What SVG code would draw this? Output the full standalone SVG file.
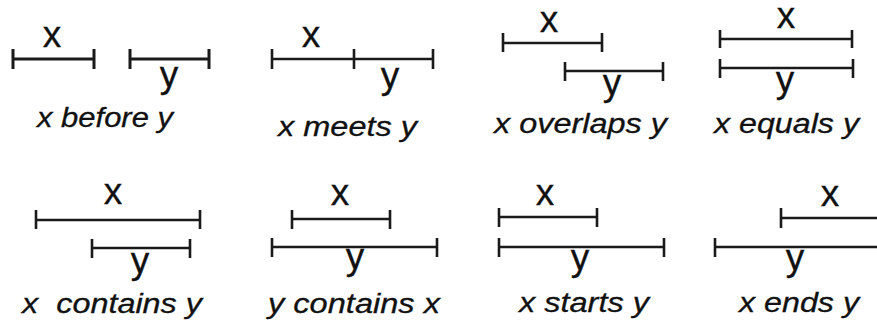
<svg xmlns="http://www.w3.org/2000/svg" width="877" height="322" viewBox="0 0 877 322">
<style>
.iv{fill:none;stroke:#1a1a1a;stroke-width:2.6;stroke-linecap:butt}
.thick{stroke-width:3}
.lbl{font-family:"Liberation Sans",Arial,sans-serif;font-size:37px;fill:#111;stroke:#111;stroke-width:0.3;text-anchor:middle}
.cap{font-family:"Liberation Sans",Arial,sans-serif;font-size:27px;font-style:italic;fill:#111;stroke:#111;stroke-width:0.3}
</style>
<rect width="877" height="322" fill="#fff"/>
<g id="before">
  <g id="before-x"><path class="iv thick" d="M13 59H94M13 49V69M94 49V69"/><text class="lbl" x="52" y="47">x</text></g>
  <g id="before-y"><path class="iv thick" d="M130 59H209M130 49V69M209 49V69"/><text class="lbl" x="169" y="87">y</text></g>
  <text class="cap" x="37" y="127" textLength="136" lengthAdjust="spacingAndGlyphs">x before y</text>
</g>
<g id="meets">
  <g id="meets-x"><path class="iv" d="M272 59H354M272 49V69M354 49V69"/><text class="lbl" x="311" y="47">x</text></g>
  <g id="meets-y"><path class="iv" d="M354 59H433M433 49V69"/><text class="lbl" x="390" y="88">y</text></g>
  <text class="cap" x="278" y="136" textLength="139" lengthAdjust="spacingAndGlyphs">x meets y</text>
</g>
<g id="overlaps">
  <g id="overlaps-x"><path class="iv" d="M503 43H602M503 33V52M602 33V52"/><text class="lbl" x="549" y="32">x</text></g>
  <g id="overlaps-y"><path class="iv" d="M565 71H663M565 62V81M663 62V81"/><text class="lbl" x="612" y="95">y</text></g>
  <text class="cap" x="494" y="133" textLength="173" lengthAdjust="spacingAndGlyphs">x overlaps y</text>
</g>
<g id="equals">
  <g id="equals-x"><path class="iv" d="M720 39H852M720 30V48M852 30V48"/><text class="lbl" x="786" y="28">x</text></g>
  <g id="equals-y"><path class="iv" d="M720 68H853M720 59V78M853 59V78"/><text class="lbl" x="785" y="92">y</text></g>
  <text class="cap" x="714" y="133" textLength="145" lengthAdjust="spacingAndGlyphs">x equals y</text>
</g>
<g id="contains">
  <g id="contains-x"><path class="iv" d="M36 220H200M36 210V229M200 210V229"/><text class="lbl" x="113" y="204">x</text></g>
  <g id="contains-y"><path class="iv" d="M92 248H190M92 239V258M190 239V258"/><text class="lbl" x="140" y="273">y</text></g>
  <text class="cap" x="22" y="313" textLength="180" lengthAdjust="spacingAndGlyphs" xml:space="preserve">x  contains y</text>
</g>
<g id="during">
  <g id="during-x"><path class="iv" d="M292 219H390M292 210V229M390 210V229"/><text class="lbl" x="340" y="205">x</text></g>
  <g id="during-y"><path class="iv" d="M272 247H437M272 238V257M437 238V257"/><text class="lbl" x="355" y="269">y</text></g>
  <text class="cap" x="268" y="313" textLength="172" lengthAdjust="spacingAndGlyphs">y contains x</text>
</g>
<g id="starts">
  <g id="starts-x"><path class="iv" d="M499 217H597M499 208V227M597 208V227"/><text class="lbl" x="545" y="205">x</text></g>
  <g id="starts-y"><path class="iv" d="M499 247H664M499 238V257M664 238V257"/><text class="lbl" x="580" y="270">y</text></g>
  <text class="cap" x="519" y="312" textLength="130" lengthAdjust="spacingAndGlyphs">x starts y</text>
</g>
<g id="ends">
  <g id="ends-x"><path class="iv" d="M781 218H880M781 208V228"/><text class="lbl" x="830" y="206">x</text></g>
  <g id="ends-y"><path class="iv" d="M715 247H880M715 238V257"/><text class="lbl" x="795" y="270">y</text></g>
  <text class="cap" x="739" y="312" textLength="120" lengthAdjust="spacingAndGlyphs">x ends y</text>
</g>
</svg>
